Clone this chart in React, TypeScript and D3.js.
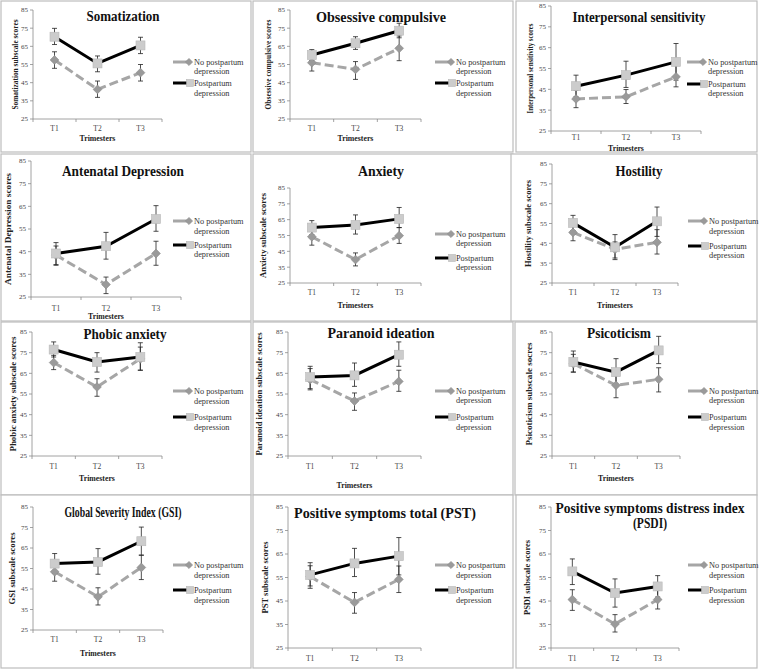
import React from "react";
import * as d3 from "d3";

const trimesters = ["T1", "T2", "T3"];
const yTicks = [25, 35, 45, 55, 65, 75, 85];
const legendNames = [
  ["No postpartum", "depression"],
  ["Postpartum", "depression"],
];

const titles = [
  ["Somatization"],
  ["Obsessive compulsive"],
  ["Interpersonal sensitivity"],
  ["Antenatal Depression"],
  ["Anxiety"],
  ["Hostility"],
  ["Phobic anxiety"],
  ["Paranoid ideation"],
  ["Psicoticism"],
  ["Global Severity Index (GSI)"],
  ["Positive symptoms total (PST)"],
  ["Positive symptoms distress index", "(PSDI)"],
];

const yLabels = [
  "Somatization subscale scores",
  "Obsessive compulsive scores",
  "Interpersonal sensitivity  scores",
  "Antenatal Depression scores",
  "Anxiety subscale scores",
  "Hostility subscale scores",
  "Phobic anxiety subscale scores",
  "Paranoid ideation subscale scores",
  "Psicoticism subscale socres",
  "GSI subscale scores",
  "PST subscale scores",
  "PSDI subscale scores",
];

// no postpartum depression (gray, diamonds)
const noPpdMean = [
  [57.5, 41.3, 50.5],
  [56, 52.3, 63.9],
  [40.4, 41.4, 51],
  [43.5, 30.5, 44.2],
  [54.2, 39.8, 54.9],
  [50.5, 42, 45.5],
  [70.2, 58.4, 72],
  [62, 51.6, 61.1],
  [69.7, 59.2, 62.1],
  [53.4, 41.2, 55.5],
  [55.4, 44.4, 54.2],
  [45.6, 35.2, 45.6],
];
const noPpdLow = [
  [52.9, 36.9, 45.9],
  [51.4, 46.8, 57.1],
  [36.2, 38.2, 46.2],
  [39, 26.5, 39],
  [48.9, 35.8, 50],
  [46.3, 37.6, 39.6],
  [66.8, 53.9, 66.5],
  [57, 47.1, 56.3],
  [65.6, 53.2, 56],
  [48.8, 37.2, 49.6],
  [50.4, 39.8, 48.6],
  [41, 31.8, 41.6],
];
const noPpdHigh = [
  [62, 45.9, 55],
  [60.2, 56.6, 70.7],
  [44.5, 44.9, 56.6],
  [47.5, 33.8, 49.6],
  [59, 44, 60],
  [54.5, 45.7, 51.9],
  [73.7, 62.4, 77.7],
  [67.3, 55.5, 66.5],
  [74.2, 64.8, 67.7],
  [57.5, 45.6, 61.5],
  [60, 48.6, 59.9],
  [49.8, 39.2, 49.5],
];

// postpartum depression (black, squares)
const ppdMean = [
  [70.3, 55.6, 65.5],
  [60.2, 66.7, 73.6],
  [46.5, 51.8, 58.2],
  [44.2, 47.4, 59.4],
  [60, 61.7, 65.5],
  [55.3, 43, 56.1],
  [76.5, 70.5, 72.9],
  [63.2, 64, 74],
  [70.5, 65.6, 76.1],
  [57.4, 58.2, 68.3],
  [56.1, 61, 64.1],
  [57.6, 48.4, 51.2],
];
const ppdLow = [
  [66, 51, 61],
  [57.2, 63.3, 69.7],
  [41.4, 45.9, 49.4],
  [39.3, 41.7, 54],
  [55.5, 55.9, 60],
  [51.4, 36.8, 48.5],
  [72.9, 65.6, 66.5],
  [57.6, 58.7, 68.4],
  [65.6, 59.2, 69.7],
  [52.6, 52.2, 61.5],
  [51.4, 55.4, 56.1],
  [52, 42.4, 46.7],
];
const ppdHigh = [
  [74.9, 59.7, 70],
  [63.2, 70.3, 77.7],
  [51.8, 58.5, 67],
  [49, 53.5, 65.3],
  [64.4, 68, 72.7],
  [59.1, 49.4, 63.3],
  [80.2, 75, 79.8],
  [68.4, 70, 80.2],
  [75.8, 72.1, 82.9],
  [62.3, 64.7, 75.2],
  [61.3, 67.4, 72],
  [62.9, 54.4, 55.8],
];

// panel geometry (absolute page coords)
const layout = [
  { px: 1, py: 1, pw: 250, ph: 151, l: 33, r: 162, t: 10, b: 119, tx: 123, ty: [16], ts: 14, tlen: [73], yl: 15, ylen: 90, tk: 128, xl: 138, lx: 173, ly: [62, 71, 83, 93] },
  { px: 253, py: 1, pw: 260, ph: 151, l: 290, r: 421, t: 10, b: 119, tx: 381, ty: [17], ts: 14, tlen: [130], yl: 268, ylen: 90, tk: 128, xl: 138, lx: 435, ly: [62, 71, 83, 93] },
  { px: 516, py: 1, pw: 241, ph: 151, l: 551, r: 701, t: 6, b: 131, tx: 639, ty: [17], ts: 14, tlen: [133], yl: 530, ylen: 90, tk: 137, xl: 148, lx: 687, ly: [62, 71, 84, 93] },
  { px: 1, py: 154, pw: 250, ph: 167, l: 31, r: 181, t: 161, b: 297, tx: 123, ty: [171], ts: 14, tlen: [122], yl: 8, ylen: 112, tk: 308, xl: 316, lx: 173, ly: [221, 231, 245, 254] },
  { px: 253, py: 154, pw: 260, ph: 167, l: 290, r: 421, t: 188, b: 283, tx: 381, ty: [171], ts: 14, tlen: [46], yl: 263, ylen: 85, tk: 292, xl: 305, lx: 435, ly: [234, 243, 258, 267] },
  { px: 511, py: 154, pw: 246, ph: 167, l: 552, r: 678, t: 164, b: 283, tx: 639, ty: [171], ts: 14, tlen: [47], yl: 528, ylen: 87, tk: 292, xl: 305, lx: 688, ly: [221, 231, 246, 255] },
  { px: 1, py: 322, pw: 250, ph: 173, l: 32, r: 162, t: 332, b: 456, tx: 125, ty: [334], ts: 14.5, tlen: [83], yl: 13, ylen: 115, tk: 466, xl: 478, lx: 173, ly: [391, 401, 417, 427] },
  { px: 253, py: 322, pw: 260, ph: 173, l: 288, r: 421, t: 332, b: 456, tx: 381, ty: [333], ts: 14.5, tlen: [107], yl: 259, ylen: 123, tk: 466, xl: 485, lx: 435, ly: [391, 400, 417, 427] },
  { px: 515, py: 322, pw: 242, ph: 173, l: 552, r: 680, t: 332, b: 456, tx: 619, ty: [333], ts: 14.5, tlen: [64], yl: 529, ylen: 103, tk: 466, xl: 478, lx: 688, ly: [391, 400, 417, 427] },
  { px: 1, py: 495, pw: 250, ph: 173, l: 33, r: 163, t: 507, b: 630, tx: 123, ty: [512], ts: 14.5, tlen: [117], yl: 12, ylen: 72, tk: 639, xl: 653, lx: 173, ly: [565, 575, 590, 600] },
  { px: 253, py: 495, pw: 260, ph: 173, l: 288, r: 421, t: 507, b: 648, tx: 385, ty: [513], ts: 14.5, tlen: [182], yl: 265, ylen: 72, tk: 658, xl: null, lx: 435, ly: [565, 575, 590, 600] },
  { px: 516, py: 495, pw: 241, ph: 173, l: 551, r: 679, t: 507, b: 648, tx: 650, ty: [508, 523], ts: 14.5, tlen: [189, 34], yl: 527, ylen: 75, tk: 658, xl: null, lx: 688, ly: [565, 575, 590, 600] },
];

const FONT = "'Liberation Serif', 'Times New Roman', serif";
const GRAY_LINE = "#a6a6a6";
const DIAMOND = "#9a9a9a";
const SQUARE = "#cccccc";

function Diamond({ x, y, s = 4.4 }) {
  return (
    <path
      d={`M${x},${y - s}L${x + s},${y}L${x},${y + s}L${x - s},${y}Z`}
      fill={DIAMOND}
      stroke="#8a8a8a"
      strokeWidth={0.6}
    />
  );
}

function Square({ x, y, s = 9 }) {
  return (
    <rect
      x={x - s / 2}
      y={y - s / 2}
      width={s}
      height={s}
      fill={SQUARE}
      stroke="#b8b8b8"
      strokeWidth={0.6}
    />
  );
}

function Panel({ i }) {
  const L = layout[i];
  const xScale = d3.scaleBand().domain(trimesters).range([L.l, L.r]);
  const yScale = d3.scaleLinear().domain([25, 85]).range([L.b, L.t]);
  const cx = (d) => xScale(d) + xScale.bandwidth() / 2;

  const line = d3
    .line()
    .x((d) => cx(d.k))
    .y((d) => yScale(d.v));

  const noPts = trimesters.map((k, j) => ({ k, v: noPpdMean[i][j], lo: noPpdLow[i][j], hi: noPpdHigh[i][j] }));
  const ppdPts = trimesters.map((k, j) => ({ k, v: ppdMean[i][j], lo: ppdLow[i][j], hi: ppdHigh[i][j] }));
  const yMid = (L.t + L.b) / 2;

  return (
    <g>
      <rect x={L.px} y={L.py} width={L.pw} height={L.ph} fill="white" stroke="#bdbdbd" strokeWidth={1.2} />

      {/* title */}
      {titles[i].map((t, k) => (
        <text
          key={k}
          x={L.tx}
          y={L.ty[k] + L.ts * 0.33}
          textAnchor="middle"
          fontFamily={FONT}
          fontWeight="bold"
          fontSize={L.ts}
          textLength={L.tlen[k]}
          lengthAdjust="spacingAndGlyphs"
          fill="#111"
        >
          {t}
        </text>
      ))}

      {/* y axis */}
      <line x1={L.l} x2={L.l} y1={L.t} y2={L.b} stroke="#8c8c8c" strokeWidth={0.8} />
      {yTicks.map((v) => (
        <g key={v}>
          <line x1={L.l - 3} x2={L.l} y1={yScale(v)} y2={yScale(v)} stroke="#8c8c8c" strokeWidth={0.8} />
          <text
            x={L.l - 5}
            y={yScale(v) + 2.4}
            textAnchor="end"
            fontFamily={FONT}
            fontSize={7}
            fill="#444"
          >
            {v}
          </text>
        </g>
      ))}

      {/* x axis */}
      <line x1={L.l} x2={L.r} y1={L.b} y2={L.b} stroke="#8c8c8c" strokeWidth={0.8} />
      {[...trimesters.map((d) => xScale(d)), L.r].map((x, k) => (
        <line key={k} x1={x} x2={x} y1={L.b} y2={L.b + 3} stroke="#8c8c8c" strokeWidth={0.8} />
      ))}
      {trimesters.map((d) => (
        <text key={d} x={cx(d)} y={L.tk + 2.6} textAnchor="middle" fontFamily={FONT} fontSize={7.5} fill="#444">
          {d}
        </text>
      ))}
      {L.xl !== null && (
        <text
          x={cx("T2")}
          y={L.xl + 2.8}
          textAnchor="middle"
          fontFamily={FONT}
          fontWeight="bold"
          fontSize={7.8}
          fill="#222"
        >
          Trimesters
        </text>
      )}

      {/* y label */}
      <text
        transform={`translate(${L.yl},${yMid}) rotate(-90)`}
        dy="0.33em"
        textAnchor="middle"
        fontFamily={FONT}
        fontWeight="bold"
        fontSize={7.6}
        textLength={L.ylen}
        lengthAdjust="spacingAndGlyphs"
        fill="#222"
      >
        {yLabels[i]}
      </text>

      {/* series lines */}
      <path d={line(noPts)} fill="none" stroke={GRAY_LINE} strokeWidth={3} strokeDasharray="9,4" />
      <path d={line(ppdPts)} fill="none" stroke="#000" strokeWidth={3} />

      {/* error bars */}
      {[...noPts, ...ppdPts].map((p, k) => (
        <g key={k} stroke="#222" strokeWidth={0.8}>
          <line x1={cx(p.k)} x2={cx(p.k)} y1={yScale(p.lo)} y2={yScale(p.hi)} />
          <line x1={cx(p.k) - 2.5} x2={cx(p.k) + 2.5} y1={yScale(p.lo)} y2={yScale(p.lo)} />
          <line x1={cx(p.k) - 2.5} x2={cx(p.k) + 2.5} y1={yScale(p.hi)} y2={yScale(p.hi)} />
        </g>
      ))}

      {/* markers */}
      {noPts.map((p) => (
        <Diamond key={p.k} x={cx(p.k)} y={yScale(p.v)} />
      ))}
      {ppdPts.map((p) => (
        <Square key={p.k} x={cx(p.k)} y={yScale(p.v)} />
      ))}

      {/* legend */}
      <line x1={L.lx} x2={L.lx + 18} y1={L.ly[0]} y2={L.ly[0]} stroke={GRAY_LINE} strokeWidth={3} />
      <Diamond x={L.lx + 16} y={L.ly[0]} s={3.6} />
      <line x1={L.lx} x2={L.lx + 18} y1={L.ly[2]} y2={L.ly[2]} stroke="#000" strokeWidth={3} />
      <Square x={L.lx + 17} y={L.ly[2]} s={7} />
      {legendNames.map((name, s) =>
        name.map((t, k) => (
          <text
            key={`${s}-${k}`}
            x={L.lx + 21}
            y={L.ly[s * 2 + k] + 2.6}
            fontFamily={FONT}
            fontSize={8.3}
            fill="#333"
          >
            {t}
          </text>
        ))
      )}
    </g>
  );
}

export default function App() {
  return (
    <svg
      width={759}
      height={670}
      viewBox="0 0 759 670"
      style={{ position: "absolute", left: 0, top: 0, background: "white" }}
    >
      <rect x={0} y={0} width={759} height={670} fill="white" />
      {layout.map((_, i) => (
        <Panel key={i} i={i} />
      ))}
    </svg>
  );
}
